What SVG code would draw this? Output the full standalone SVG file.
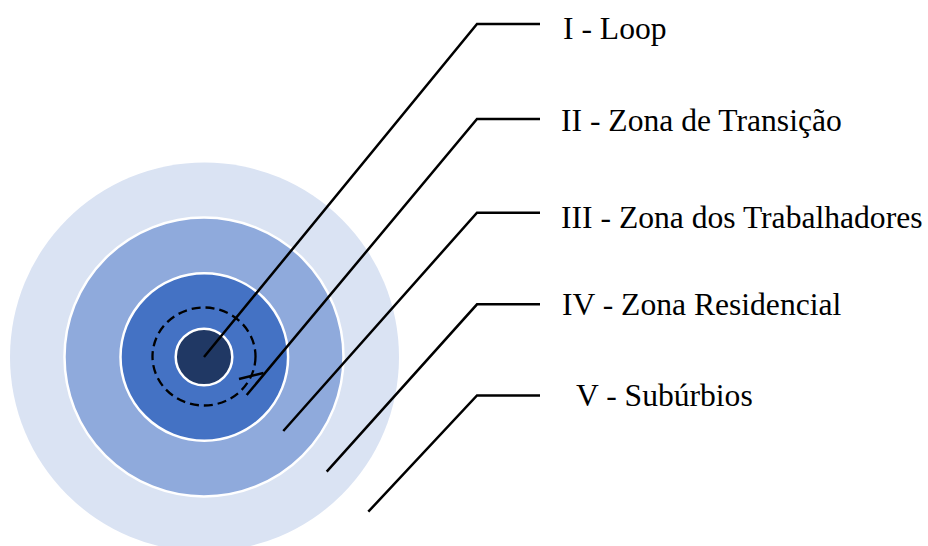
<svg xmlns="http://www.w3.org/2000/svg" width="928" height="546" viewBox="0 0 928 546">
<style>
.ring{stroke:#FFFFFF;stroke-width:2.5}
.lbl{font-family:"Liberation Serif","Times New Roman",serif;font-size:31.6px;fill:#000000}
.ln{fill:none;stroke:#000000;stroke-width:2.5}
</style>
<rect width="928" height="546" fill="#FFFFFF"/>
<g id="zone5"><circle cx="204.5" cy="357" r="194.5" fill="#DAE3F3"/></g>
<g id="zone4"><circle class="ring" cx="204" cy="357" r="139.5" fill="#8FAADC"/></g>
<g id="zone3"><circle class="ring" cx="204.3" cy="357" r="83.8" fill="#4472C4"/></g>
<g id="zone2"><ellipse cx="204" cy="356.5" rx="51.5" ry="49" fill="none" stroke="#000000" stroke-width="2.3" stroke-dasharray="9,5"/></g>
<g id="zone1"><circle class="ring" cx="204" cy="357" r="28.3" fill="#203864"/></g>
<g id="connectors">
<polyline class="ln" points="204,357 477,24 540,24"/>
<polyline class="ln" points="246.7,395 477,119 540,119"/>
<line class="ln" x1="239" y1="379" x2="263.5" y2="373"/>
<polyline class="ln" points="283.3,431 477,212.7 540,212.7"/>
<polyline class="ln" points="326.7,471.7 477,304.3 540,304.3"/>
<polyline class="ln" points="368.3,511.7 477,395.5 540,395.5"/>
</g>
<g id="labels">
<text class="lbl" x="563" y="38.5">I - Loop</text>
<text class="lbl" x="561" y="130.5">II - Zona de Transição</text>
<text class="lbl" x="561" y="227.5">III - Zona dos Trabalhadores</text>
<text class="lbl" x="562" y="315">IV - Zona Residencial</text>
<text class="lbl" x="576" y="405.5">V - Subúrbios</text>
</g>
</svg>
